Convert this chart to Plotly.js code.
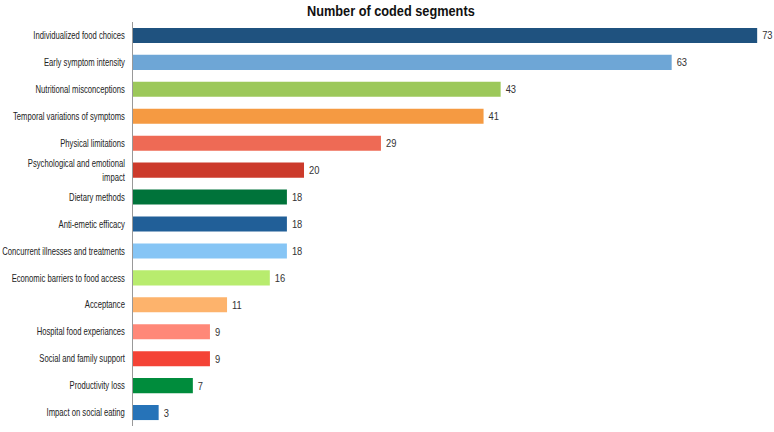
<!DOCTYPE html>
<html><head><meta charset="utf-8">
<script src="https://cdn.plot.ly/plotly-3.0.1.min.js"></script>
<style>html,body{margin:0;padding:0;background:#fff}</style>
</head><body>
<div id="chart" style="width:774px;height:432px"></div>
<script>
const categories = [
  "Individualized food choices",
  "Early symptom intensity",
  "Nutritional misconceptions",
  "Temporal variations of symptoms",
  "Physical limitations",
  "Psychological and emotional<br>impact",
  "Dietary methods",
  "Anti-emetic efficacy",
  "Concurrent illnesses and treatments",
  "Economic barriers to food access",
  "Acceptance",
  "Hospital food experiances",
  "Social and family support",
  "Productivity loss",
  "Impact on social eating"
];
const values = [73, 63, 43, 41, 29, 20, 18, 18, 18, 16, 11, 9, 9, 7, 3];
const colors = ["#1f527f","#6ea6d6","#9cc85a","#f59a42","#ee6a55","#cc3a2b","#00733a","#215f98","#86c5f5","#b8ec6e","#fdb36c","#ff8878","#f44336","#008c3c","#2673b8"];

const font = "'Liberation Sans', Arial, sans-serif";

Plotly.newPlot("chart", [{
  type: "bar",
  orientation: "h",
  y: categories,
  x: values,
  marker: {color: colors, line: {width: 0}},
  width: 0.56,
  text: values.map(String),
  textposition: "outside",
  cliponaxis: false,
  textfont: {family: font, size: 11, color: "#333"},
  hoverinfo: "none"
}], {
  width: 774, height: 432,
  margin: {l: 133, r: 4, t: 22, b: 6},
  paper_bgcolor: "#fff", plot_bgcolor: "#fff",
  title: {text: "<b>Number of coded segments</b>", x: 0.505, xanchor: "center", y: 0.988, yanchor: "top",
          font: {family: "'Liberation Sans', Arial, sans-serif", size: 15, color: "#111"}},
  xaxis: {range: [0, 74.5], visible: false, showgrid: false, zeroline: false},
  yaxis: {autorange: "reversed", showline: true, linecolor: "#999", linewidth: 1,
          ticks: "", ticklen: 0, ticklabelstandoff: 5, tickfont: {family: font, size: 10.5, color: "#222"},
          showgrid: false, zeroline: false, automargin: false},
  bargap: 0.44,
  showlegend: false
}, {displayModeBar: false, staticPlot: true}).then(function(gd){
  // condense tick labels horizontally to mimic the narrow font of the reference
  const sx = 0.73;
  gd.querySelectorAll(".ytick text").forEach(function(t){
    const x = parseFloat(t.getAttribute("x")) || 0;
    const tr = t.getAttribute("transform") || "";
    t.setAttribute("transform", tr + " translate(" + x + ",0) scale(" + sx + ",1) translate(" + (-x) + ",0)");
  });
  const title = gd.querySelector(".gtitle");
  if (title) {
    const x = parseFloat(title.getAttribute("x")) || 0;
    const tr = title.getAttribute("transform") || "";
    title.setAttribute("transform", tr + " translate(" + x + ",0) scale(0.85,1) translate(" + (-x) + ",0)");
  }
  gd.querySelectorAll(".bartext").forEach(function(t){
    const bb = t.getBBox();
    const x = bb.x;
    const tr = t.getAttribute("transform") || "";
    t.setAttribute("transform", tr + " translate(" + (x + 2) + ",0) scale(0.85,1) translate(" + (-x) + ",0)");
  });
});
</script>
</body></html>
